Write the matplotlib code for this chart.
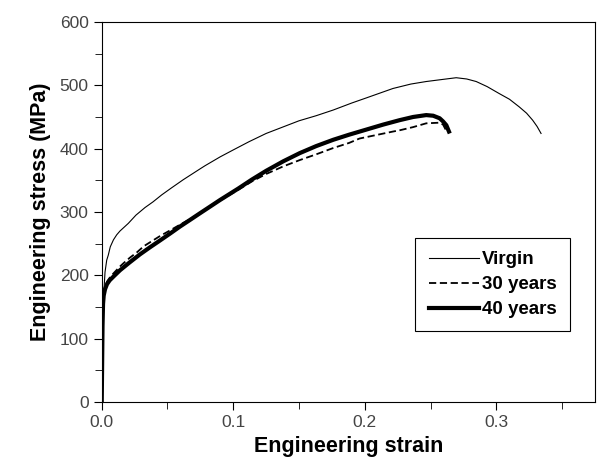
import matplotlib
matplotlib.use("Agg")
import matplotlib.pyplot as plt

# values
virgin_strain = [0, 0.0005, 0.001, 0.0015, 0.0025, 0.0038, 0.005, 0.0065, 0.0089, 0.0114,
                 0.0139, 0.0202, 0.026, 0.0329, 0.039, 0.0456, 0.053, 0.062, 0.0747, 0.0785,
                 0.09, 0.1, 0.112, 0.125, 0.14, 0.15, 0.163, 0.176, 0.19, 0.201,
                 0.2214, 0.235, 0.2467, 0.258, 0.2695, 0.2775, 0.2847, 0.293, 0.3022, 0.31,
                 0.3174, 0.323, 0.3276, 0.331, 0.334]
virgin_stress = [0, 70, 130, 170, 205, 224, 232, 245, 256, 264,
                 270, 282, 295, 307, 316, 327, 338, 351, 368, 373,
                 387, 398, 411, 424, 436, 444, 452, 461, 472, 480,
                 495, 502, 506, 509, 512, 510, 506, 498, 487, 478,
                 466, 456, 445, 435, 424]

y30_strain = [0, 0.0003, 0.0006, 0.001, 0.0015, 0.0025, 0.004, 0.006, 0.0089, 0.0139,
              0.0165, 0.0215, 0.0266, 0.032, 0.0443, 0.052, 0.0595, 0.0675, 0.0747, 0.082,
              0.09, 0.1038, 0.114, 0.125, 0.138, 0.1506, 0.163, 0.176, 0.188, 0.196,
              0.2214, 0.2265, 0.2367, 0.2467, 0.2569, 0.2595, 0.261, 0.262]
y30_stress = [0, 60, 120, 155, 170, 182, 190, 196, 203, 214,
              219, 228, 236, 246, 262, 271, 280, 289, 298, 308,
              318, 335, 348, 360, 372, 382, 391, 401, 409, 416,
              427, 429, 434, 440, 441, 438, 432, 428]

y40_strain = [0, 0.0003, 0.0006, 0.001, 0.0015, 0.0025, 0.004, 0.006, 0.0089, 0.0139,
              0.021, 0.029, 0.0365, 0.0443, 0.052, 0.0595, 0.0675, 0.0747, 0.082, 0.09,
              0.1038, 0.114, 0.125, 0.138, 0.1506, 0.163, 0.176, 0.188, 0.201, 0.214,
              0.2265, 0.2367, 0.2467, 0.252, 0.2569, 0.2595, 0.262, 0.263, 0.264]
y40_stress = [0, 60, 120, 155, 168, 178, 186, 192, 198, 208,
              220, 233, 244, 255, 266, 277, 288, 298, 308, 319,
              337, 351, 365, 380, 393, 404, 414, 422, 430, 438,
              445, 450, 453, 452, 448, 443, 437, 432, 427]

plt.rcParams['font.family'] = ['Liberation Sans', 'DejaVu Sans']

fig = plt.figure(figsize=(5.97, 4.63), dpi=100)
ax = fig.add_axes([0.1704, 0.1318, 0.8262, 0.8207])

ax.plot(virgin_strain, virgin_stress, color='black', lw=0.8, label='Virgin')
ax.plot(y30_strain, y30_stress, color='black', lw=1.3, dashes=(4, 2), label='30 years')
ax.plot(y40_strain, y40_stress, color='black', lw=3.0, label='40 years')

ax.set_xlim(0, 0.375)
ax.set_ylim(0, 600)
ax.set_xticks([0.0, 0.1, 0.2, 0.3])
ax.set_xticks([0.05, 0.15, 0.25, 0.35], minor=True)
ax.set_yticks(range(0, 601, 100))
ax.set_yticks(range(50, 600, 100), minor=True)
ax.tick_params(which='both', direction='out', top=False, right=False,
               labelsize=12.5, labelcolor='#444444')
ax.tick_params(which='major', length=6)
ax.tick_params(which='minor', length=5)

ax.set_xlabel('Engineering strain', fontsize=15.5, fontweight='bold', labelpad=4)
ax.set_ylabel('Engineering stress (MPa)', fontsize=15.5, fontweight='bold', labelpad=6)

leg = ax.legend(loc='upper right', bbox_to_anchor=(0.949, 0.432),
                prop={'size': 13.5, 'weight': 'bold'}, labelspacing=0.42,
                handlelength=2.7, handletextpad=0.15, fancybox=False,
                edgecolor='black', framealpha=1, borderpad=0.7, borderaxespad=0)
leg.get_frame().set_linewidth(0.8)

fig.savefig('out.png', dpi=100)
